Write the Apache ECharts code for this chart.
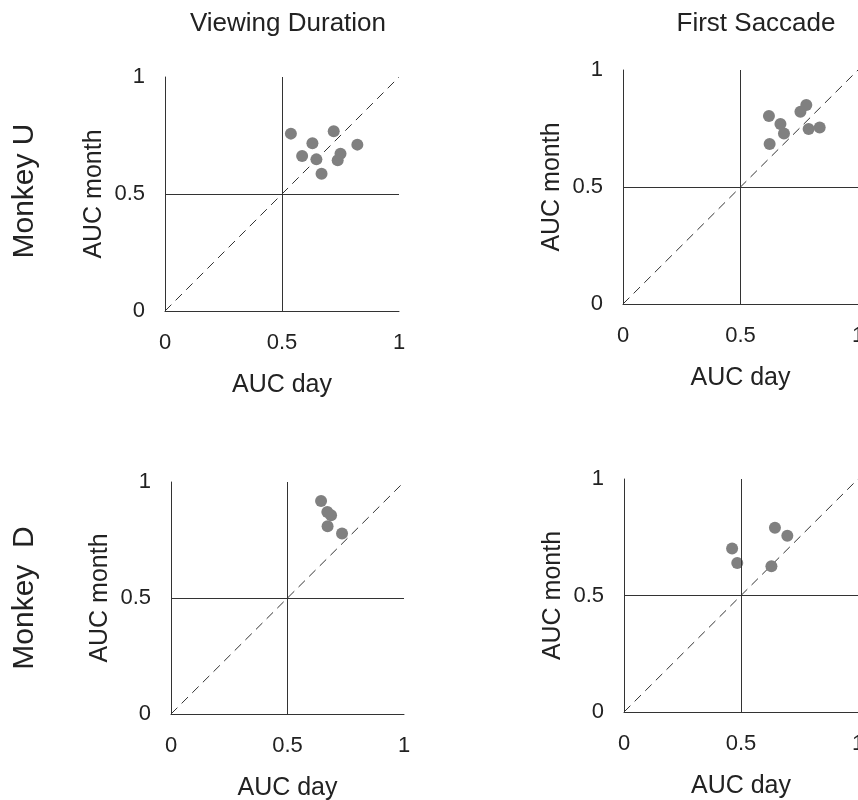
<!DOCTYPE html>
<html>
<head>
    <meta charset="UTF-8">
    <title>AUC day vs month</title>
    <script src="https://cdn.jsdelivr.net/npm/echarts@6/dist/echarts.min.js"></script>
    <style>
        html, body { margin: 0; padding: 0; background: #fff; }
        #main { width: 858px; height: 800px; }
    </style>
</head>
<body>
    <div id="main"></div>
<script>
    // Viewing Duration - Monkey U
    var vdUDay   = [0.538, 0.721, 0.630, 0.822, 0.586, 0.647, 0.750, 0.738, 0.669];
    var vdUMonth = [0.758, 0.768, 0.717, 0.711, 0.662, 0.648, 0.672, 0.644, 0.587];
    // First Saccade - Monkey U
    var fsUDay   = [0.621, 0.670, 0.685, 0.624, 0.755, 0.780, 0.790, 0.837];
    var fsUMonth = [0.803, 0.769, 0.729, 0.684, 0.822, 0.850, 0.748, 0.754];
    // Viewing Duration - Monkey D
    var vdDDay   = [0.644, 0.671, 0.687, 0.672, 0.734];
    var vdDMonth = [0.918, 0.871, 0.857, 0.809, 0.778];
    // First Saccade - Monkey D
    var fsDDay   = [0.462, 0.484, 0.645, 0.698, 0.630];
    var fsDMonth = [0.702, 0.639, 0.791, 0.756, 0.626];

    var diagonal = [[0, 0], [1, 1]];
    var ticks = [0, 0.5, 1];

    var font = 'Liberation Sans, Arial, sans-serif';
    var ink = '#222';

    function zip(a, b) {
        var out = [];
        for (var i = 0; i < a.length; i++) out.push([a[i], b[i]]);
        return out;
    }

    var panels = [
        { day: vdUDay, month: vdUMonth, grid: { left: 165, top: 77, width: 234, height: 234 } },
        { day: fsUDay, month: fsUMonth, grid: { left: 623, top: 70, width: 235, height: 234 } },
        { day: vdDDay, month: vdDMonth, grid: { left: 171, top: 482, width: 233, height: 232 } },
        { day: fsDDay, month: fsDMonth, grid: { left: 624, top: 479, width: 234, height: 233 } }
    ];

    var grids = [], xAxes = [], yAxes = [], series = [];
    panels.forEach(function (p, i) {
        // keep the grid where it is, even if the "1" label runs off the edge
        grids.push(Object.assign({ outerBoundsMode: 'none', containLabel: false }, p.grid));
        var common = {
            type: 'value', gridIndex: i,
            min: ticks[0], max: ticks[ticks.length - 1], interval: ticks[1] - ticks[0],
            axisLine: { show: true, lineStyle: { color: '#333', width: 1 } },
            axisTick: { show: false },
            splitLine: { show: false },
            nameLocation: 'middle',
            nameTextStyle: { fontFamily: font, fontSize: 25, color: ink },
            axisLabel: { fontFamily: font, fontSize: 22, color: ink }
        };
        xAxes.push(Object.assign({}, common, {
            name: 'AUC day', nameGap: 62,
            axisLabel: Object.assign({}, common.axisLabel, { margin: 21 })
        }));
        yAxes.push(Object.assign({}, common, {
            name: 'AUC month', nameGap: 58, nameRotate: 90,
            axisLabel: Object.assign({}, common.axisLabel, { margin: 20 })
        }));
        series.push({
            type: 'line', xAxisIndex: i, yAxisIndex: i,
            data: diagonal, symbol: 'none', silent: true,
            lineStyle: { color: '#333', width: 1, type: [9, 6] },
            markLine: {
                silent: true, symbol: ['none', 'none'], label: { show: false },
                lineStyle: { color: '#333', width: 1, type: 'solid' },
                data: [{ xAxis: 0.5 }, { yAxis: 0.5 }]
            },
            z: 1
        });
        series.push({
            type: 'scatter', xAxisIndex: i, yAxisIndex: i,
            data: zip(p.day, p.month),
            symbol: 'circle', symbolSize: 12,
            itemStyle: { color: '#808080', opacity: 1 },
            z: 3
        });
    });

    var myChart = echarts.init(document.getElementById('main'));
    myChart.setOption({
        animation: false,
        backgroundColor: '#fff',
        grid: grids,
        xAxis: xAxes,
        yAxis: yAxes,
        series: series,
        graphic: [
            { type: 'text', x: 288, y: 24, style: { text: 'Viewing Duration', font: '26px ' + font, fill: ink, textAlign: 'center', textVerticalAlign: 'middle' } },
            { type: 'text', x: 756, y: 24, style: { text: 'First Saccade', font: '26px ' + font, fill: ink, textAlign: 'center', textVerticalAlign: 'middle' } },
            { type: 'text', x: 25, y: 191, rotation: Math.PI / 2, style: { text: 'Monkey U', font: '30px ' + font, fill: ink, textAlign: 'center', textVerticalAlign: 'middle' } },
            { type: 'text', x: 25, y: 598, rotation: Math.PI / 2, style: { text: 'Monkey  D', font: '30px ' + font, fill: ink, textAlign: 'center', textVerticalAlign: 'middle' } }
        ]
    });
</script>
</body>
</html>
